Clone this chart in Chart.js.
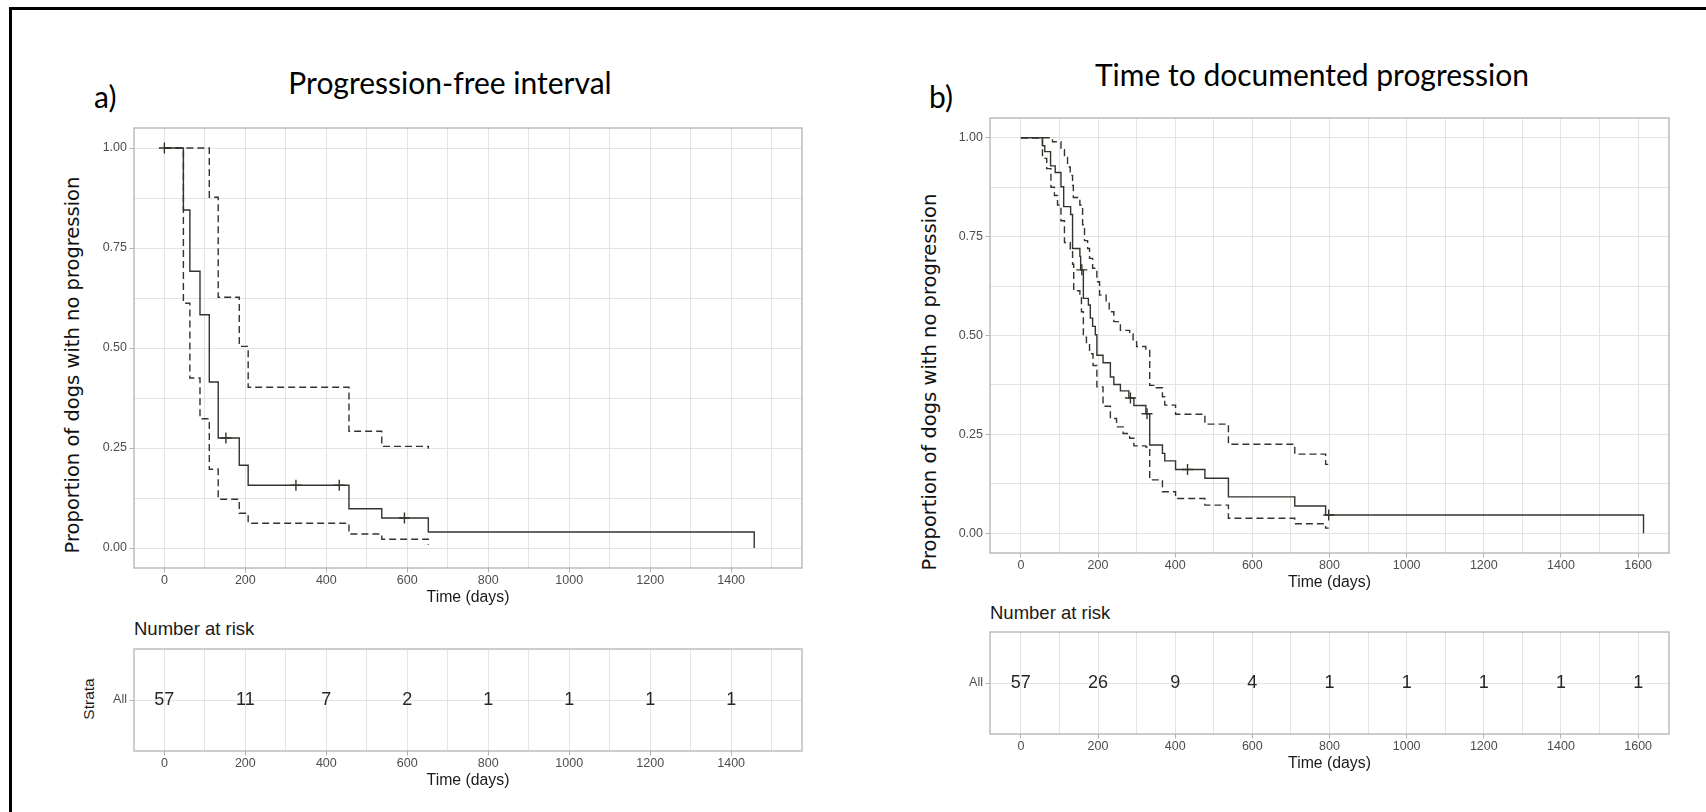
<!DOCTYPE html>
<html>
<head>
<meta charset="utf-8">
<script src="https://cdn.jsdelivr.net/npm/chart.js@4.4.1/dist/chart.umd.min.js"></script>
<style>
  html, body { margin: 0; padding: 0; background: #fff; }
  body { width: 1706px; height: 812px; position: relative; overflow: hidden; }
  canvas { position: absolute; }
  .frame { position: absolute; left: 9px; top: 7px; width: 2000px; height: 2000px; border: 3px solid #000; }
  .txt { position: absolute; white-space: nowrap; line-height: 1; color: #000; }
  .head { font-family: Lato, sans-serif; font-size: 30px; }
  .center { transform: translateX(-50%); }
  .ylab { font-family: "DejaVu Sans", sans-serif; font-size: 19.5px; color: #111;
          transform: translate(-50%, -50%) rotate(-90deg); }
  .risk { font-family: "Liberation Sans", Arial, sans-serif; font-size: 18.5px; color: #1a1a1a; }
  .strata { font-family: "Liberation Sans", Arial, sans-serif; font-size: 15.5px; color: #1a1a1a;
            transform: translate(-50%, -50%) rotate(-90deg); }
</style>
</head>
<body>
<div class="frame"></div>

<div class="txt head" style="left:94px; top:81px;">a)</div>
<div class="txt head center" style="left:450px; top:67px;">Progression-free interval</div>
<div class="txt ylab" style="left:73px; top:365px;">Proportion of dogs with no progression</div>
<div class="txt risk" style="left:134px; top:620px;">Number at risk</div>
<div class="txt strata" style="left:89px; top:699px;">Strata</div>

<div class="txt head" style="left:929px; top:81px;">b)</div>
<div class="txt head center" style="left:1312px; top:59px;">Time to documented progression</div>
<div class="txt ylab" style="left:930px; top:382px;">Proportion of dogs with no progression</div>
<div class="txt risk" style="left:990px; top:604px;">Number at risk</div>

<canvas id="kmA"></canvas>
<canvas id="riskA"></canvas>
<canvas id="kmB"></canvas>
<canvas id="riskB"></canvas>

<script>
// a) progression-free interval
const pfiTime  = [0, 47, 63, 88, 111, 133, 185, 207, 456, 537, 652, 1457];
const pfiSurv  = [1, 0.845, 0.692, 0.583, 0.415, 0.275, 0.207, 0.157, 0.098, 0.075, 0.040, 0];
const pfiUpTime = [0, 111, 133, 185, 207, 456, 537, 652];
const pfiUp     = [1, 0.877, 0.627, 0.504, 0.402, 0.292, 0.254, 0.248];
const pfiLoTime = [0, 47, 63, 88, 111, 133, 185, 207, 456, 537, 652];
const pfiLo     = [1, 0.612, 0.425, 0.323, 0.197, 0.122, 0.087, 0.062, 0.035, 0.022, 0.008];
const pfiCensTime = [0, 152, 325, 432, 593];
const pfiCensSurv = [1, 0.275, 0.157, 0.157, 0.075];
const pfiRiskTime = [0, 200, 400, 600, 800, 1000, 1200, 1400];
const pfiRisk     = [57, 11, 7, 2, 1, 1, 1, 1];

// b) time to documented progression
const ttpTime = [0, 56, 62, 77, 89, 104, 111, 129, 134, 153, 155, 162, 175, 180, 186, 193, 197, 213, 232,
                 241, 258, 280, 293, 324, 334, 367, 373, 401, 477, 538, 710, 790, 1614];
const ttpSurv = [1, 0.980, 0.965, 0.929, 0.912, 0.876, 0.826, 0.806, 0.720, 0.700, 0.666, 0.594, 0.577,
                 0.544, 0.523, 0.502, 0.450, 0.431, 0.395, 0.376, 0.360, 0.342, 0.323, 0.302, 0.223,
                 0.202, 0.183, 0.161, 0.139, 0.092, 0.069, 0.046, 0];
const ttpUpTime = [0, 82, 104, 113, 121, 128, 134, 136, 153, 160, 165, 173, 178, 186, 197, 204, 221, 229,
                   241, 258, 282, 291, 300, 324, 334, 351, 367, 373, 401, 477, 538, 710, 790, 798];
const ttpUp     = [1, 0.99, 0.97, 0.95, 0.926, 0.905, 0.88, 0.849, 0.83, 0.78, 0.74, 0.72, 0.695, 0.67,
                   0.636, 0.602, 0.585, 0.56, 0.535, 0.513, 0.504, 0.487, 0.472, 0.462, 0.374, 0.368,
                   0.345, 0.324, 0.301, 0.276, 0.225, 0.20, 0.174, 0.174];
const ttpLoTime = [0, 56, 67, 78, 87, 95, 104, 113, 128, 134, 137, 153, 157, 162, 170, 178, 187, 197, 213,
                   232, 248, 265, 282, 293, 324, 334, 367, 401, 477, 538, 710, 790, 798];
const ttpLo     = [1, 0.948, 0.922, 0.875, 0.854, 0.83, 0.79, 0.735, 0.715, 0.68, 0.613, 0.603, 0.56,
                   0.496, 0.48, 0.454, 0.424, 0.37, 0.321, 0.29, 0.269, 0.252, 0.24, 0.221, 0.218, 0.135,
                   0.105, 0.088, 0.071, 0.038, 0.024, 0.013, 0.013];
const ttpCensTime = [158, 284, 327, 432, 798];
const ttpCensSurv = [0.666, 0.342, 0.302, 0.161, 0.046];
const ttpRiskTime = [0, 200, 400, 600, 800, 1000, 1200, 1400, 1600];
const ttpRisk     = [57, 26, 9, 4, 1, 1, 1, 1, 1];

const yBreaks = [0, 0.25, 0.5, 0.75, 1];
const yGrid = [0, 0.125, 0.25, 0.375, 0.5, 0.625, 0.75, 0.875, 1];

const lineCol = "#35332c";
const gridCol = "#e4e4e4";
const tickCol = "#b3b3b3";
const sans = "'Liberation Sans', Arial, sans-serif";
Chart.defaults.font.family = sans;

function pts(xs, ys) {
  return xs.map((x, i) => ({ x: x, y: ys[i] }));
}

function xAxis(xmin, xmax, lastBreak) {
  let vals = [];
  for (let v = 0; v <= lastBreak; v += 100) vals.push(v);
  return {
    type: "linear",
    min: xmin,
    max: xmax,
    afterBuildTicks: s => { s.ticks = vals.map(v => ({ value: v })); },
    afterFit: s => { s.height = 41; },
    ticks: {
      autoSkip: false, maxRotation: 0, padding: 0.5,
      color: "#4d4d4d", font: { size: 12.5 },
      callback: v => (v % 200 === 0 ? String(v) : "")
    },
    grid: {
      color: gridCol, lineWidth: 1, tickLength: 4.5,
      tickColor: c => (c.tick && c.tick.value % 200 === 0 ? tickCol : "rgba(0,0,0,0)")
    },
    border: { display: false },
    title: {
      display: true, text: "Time (days)", color: "#1a1a1a",
      font: { size: 15.8 }, padding: { top: 0, bottom: 2 }
    }
  };
}

function yAxis() {
  return {
    type: "linear",
    min: -0.05,
    max: 1.05,
    afterBuildTicks: s => { s.ticks = yGrid.map(v => ({ value: v })); },
    afterFit: s => { s.width = 44; },
    ticks: {
      autoSkip: false, padding: 2.5, color: "#4d4d4d", font: { size: 12.5 },
      callback: v => (yBreaks.includes(v) ? v.toFixed(2) : "")
    },
    grid: {
      color: gridCol, lineWidth: 1, tickLength: 4.5,
      tickColor: c => (c.tick && yBreaks.includes(c.tick.value) ? tickCol : "rgba(0,0,0,0)")
    },
    border: { display: false }
  };
}

function riskYAxis() {
  return {
    type: "linear",
    min: 0,
    max: 2,
    afterBuildTicks: s => { s.ticks = [{ value: 1 }]; },
    afterFit: s => { s.width = 44; },
    ticks: { padding: 2.5, color: "#4d4d4d", font: { size: 12.5 }, callback: () => "All" },
    grid: { color: gridCol, lineWidth: 1, tickLength: 4.5, tickColor: tickCol },
    border: { display: false }
  };
}

// grey panel border on top, like ggplot's theme_light
const panelBox = {
  id: "panelBox",
  afterDraw(chart) {
    const a = chart.chartArea;
    const ctx = chart.ctx;
    ctx.save();
    ctx.strokeStyle = tickCol;
    ctx.lineWidth = 1.3;
    ctx.strokeRect(a.left, a.top, a.right - a.left, a.bottom - a.top);
    ctx.restore();
  }
};

// numbers at risk written at the points of a hidden dataset
const riskText = {
  id: "riskText",
  afterDatasetsDraw(chart) {
    const ctx = chart.ctx;
    ctx.save();
    ctx.font = "18px " + sans;
    ctx.fillStyle = "#262626";
    ctx.textAlign = "center";
    ctx.textBaseline = "middle";
    chart.data.datasets.forEach((ds, i) => {
      if (!ds.riskLabels) return;
      chart.getDatasetMeta(i).data.forEach((p, j) => {
        ctx.fillText(String(ds.riskLabels[j]), p.x, p.y);
      });
    });
    ctx.restore();
  }
};

function curve(data, dashed) {
  return {
    data: data,
    stepped: true,
    borderColor: lineCol,
    borderWidth: 1.4,
    borderDash: dashed ? [7, 4] : [],
    pointRadius: 0,
    fill: false
  };
}

function censors(data) {
  return {
    data: data,
    showLine: false,
    pointStyle: "cross",
    pointRadius: 5.5,
    borderColor: lineCol,
    borderWidth: 1.4
  };
}

const common = {
  responsive: false,
  animation: false,
  devicePixelRatio: 1,
  events: [],
  layout: { padding: { top: 14, right: 10, left: 0, bottom: 0 } },
  plugins: { legend: { display: false }, tooltip: { enabled: false } }
};

function place(id, x, y, w, h) {
  const c = document.getElementById(id);
  c.width = w;
  c.height = h;
  c.style.left = x + "px";
  c.style.top = y + "px";
  return c;
}

function kmChart(id, box, xr, surv, up, lo, cens) {
  new Chart(place(id, box[0], box[1], box[2], box[3]), {
    type: "line",
    data: { datasets: [curve(up, true), curve(lo, true), curve(surv, false), censors(cens)] },
    options: Object.assign({}, common, {
      scales: { x: xAxis(xr[0], xr[1], xr[2]), y: yAxis() }
    }),
    plugins: [panelBox]
  });
}

function riskChart(id, box, xr, times, counts) {
  new Chart(place(id, box[0], box[1], box[2], box[3]), {
    type: "line",
    data: {
      datasets: [{
        data: times.map(t => ({ x: t, y: 1 })),
        riskLabels: counts,
        showLine: false,
        pointRadius: 0
      }]
    },
    options: Object.assign({}, common, {
      scales: { x: xAxis(xr[0], xr[1], xr[2]), y: riskYAxis() }
    }),
    plugins: [panelBox, riskText]
  });
}

kmChart("kmA", [90, 114, 722, 495], [-75, 1575, 1500],
  pts(pfiTime, pfiSurv), pts(pfiUpTime, pfiUp), pts(pfiLoTime, pfiLo), pts(pfiCensTime, pfiCensSurv));
riskChart("riskA", [90, 635, 722, 157], [-75, 1575, 1500], pfiRiskTime, pfiRisk);

kmChart("kmB", [946, 104, 733, 490], [-80, 1680, 1600],
  pts(ttpTime, ttpSurv), pts(ttpUpTime, ttpUp), pts(ttpLoTime, ttpLo), pts(ttpCensTime, ttpCensSurv));
riskChart("riskB", [946, 618, 733, 157], [-80, 1680, 1600], ttpRiskTime, ttpRisk);
</script>
</body>
</html>
